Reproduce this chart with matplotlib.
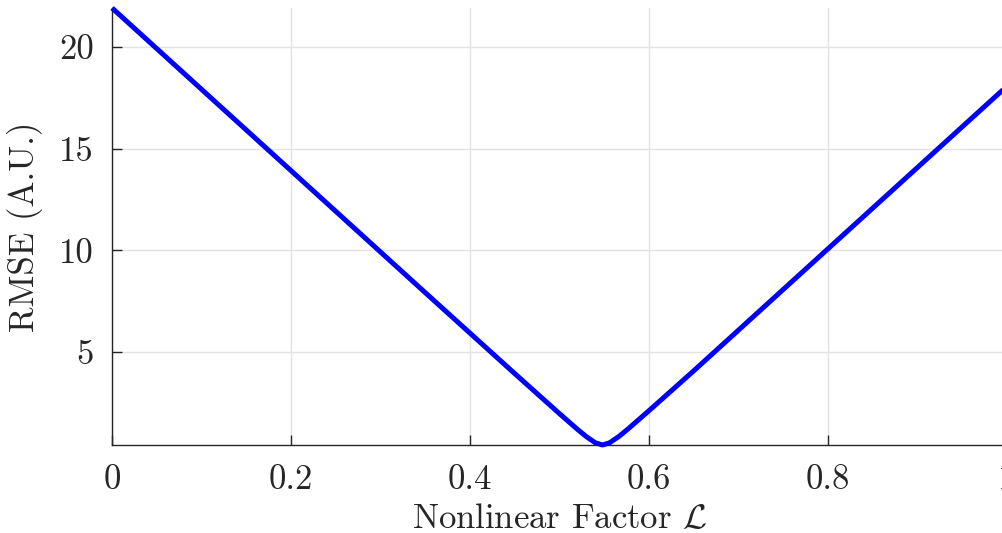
import matplotlib
matplotlib.use("Agg")
import matplotlib.pyplot as plt

# RMSE versus nonlinear factor
factor = [0.0, 0.05, 0.10, 0.15, 0.20, 0.25, 0.30, 0.35, 0.40, 0.45, 0.50,
          0.52, 0.53, 0.54, 0.548, 0.556, 0.566, 0.576, 0.60, 0.65, 0.70,
          0.75, 0.80, 0.85, 0.90, 0.95, 1.0]
rmse = [21.92, 19.92, 17.92, 15.92, 13.92, 11.92, 9.92, 7.92, 5.93, 3.94, 1.97,
        1.20, 0.84, 0.54, 0.43, 0.54, 0.84, 1.20, 2.12, 4.08, 6.08,
        8.08, 10.08, 12.08, 14.08, 16.08, 18.08]

xticks = [0, 0.2, 0.4, 0.6, 0.8, 1]
xtick_labels = ["0", "0.2", "0.4", "0.6", "0.8", "1"]
yticks = [5, 10, 15, 20]

plt.rcParams["font.family"] = "serif"
plt.rcParams["font.serif"] = ["cmr10"]
plt.rcParams["mathtext.fontset"] = "cm"
plt.rcParams["axes.formatter.use_mathtext"] = True

dark = "#262626"

fig = plt.figure(figsize=(10.03, 5.33), dpi=100)
ax = fig.add_axes([0.1117, 0.1651, 0.8923, 0.8199])

ax.plot(factor, rmse, color=(0, 0, 1), linewidth=3.6, clip_on=False, zorder=3,
        solid_capstyle="butt")

ax.set_xlim(0, 1)
ax.set_ylim(min(rmse), max(rmse))
ax.set_xticks(xticks)
ax.set_xticklabels(xtick_labels)
ax.set_yticks(yticks)
ax.set_yticklabels([str(v) for v in yticks])

ax.grid(True, color="#e3e3e3", linewidth=1.0)
ax.set_axisbelow(True)
for side in ("top", "right"):
    ax.spines[side].set_visible(False)
for side in ("left", "bottom"):
    ax.spines[side].set_color(dark)
    ax.spines[side].set_linewidth(1.0)

ax.tick_params(direction="in", length=7, width=1.0, color=dark,
               labelcolor=dark, labelsize=25)
ax.tick_params(axis="x", pad=14)
ax.tick_params(axis="y", pad=13)

ax.set_xlabel(r"Nonlinear Factor $\mathcal{L}$", fontsize=25, color=dark, labelpad=5)
ax.set_ylabel("RMSE (A.U.)", fontsize=25, color=dark, labelpad=12)

fig.savefig("out.png", dpi=100)
